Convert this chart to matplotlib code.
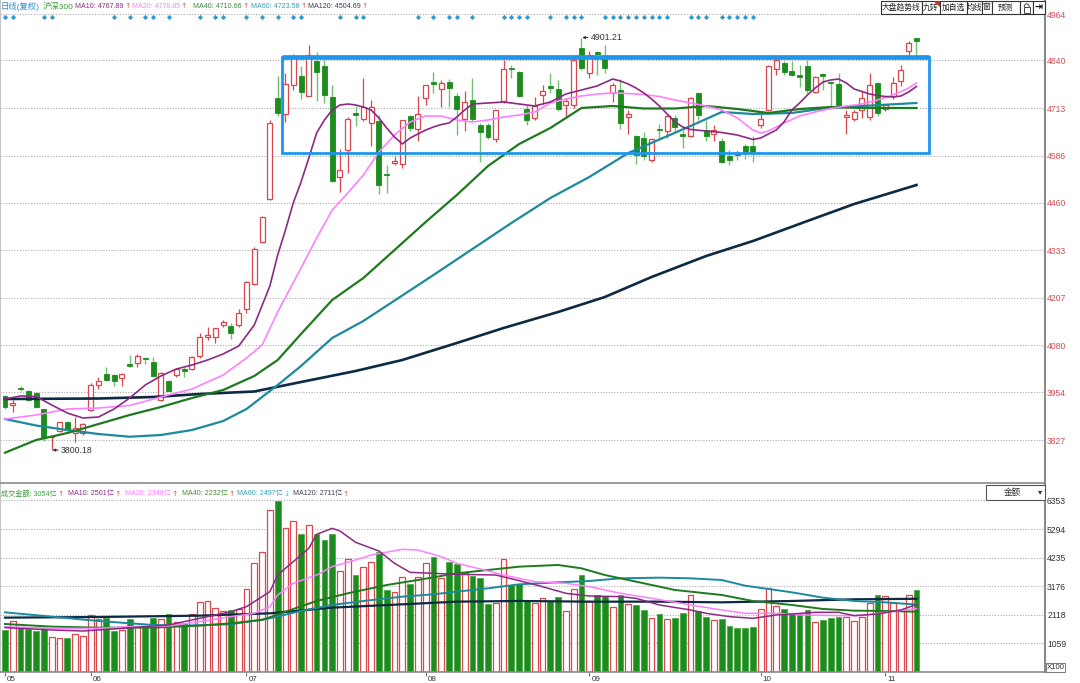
import matplotlib
matplotlib.use('Agg')
import matplotlib.pyplot as plt
import numpy as np
from matplotlib.patches import Rectangle, Polygon, Arc

W, H = 1080, 683
LAT = 'Liberation Sans'
CJK = 'Noto Sans CJK SC'
FAM = [LAT, CJK, 'DejaVu Sans']
plt.rcParams['font.family'] = FAM

# ---------------- data ----------------
opens = [3944.4,3920.4,3967.0,3957.8,3953.3,3908.9,3834.0,3851.0,3876.0,3844.8,
         3845.0,3907.1,3973.8,4003.2,4000.5,3991.6,4029.0,4031.6,4046.8,4034.3,
         3933.8,3984.5,4000.5,4015.6,4015.6,4051.0,4101.0,4101.0,4133.0,4132.0,
         4134.0,4176.0,4243.0,4355.0,4469.0,4741.0,4696.0,4775.0,4799.0,4746.0,
         4839.0,4825.0,4743.0,4528.0,4601.0,4699.7,4684.6,4673.0,4679.3,4537.8,
         4566.3,4563.6,4692.6,4657.0,4739.8,4781.6,4764.7,4781.6,4746.0,4684.6,
         4733.6,4668.6,4668.6,4630.4,4730.9,4819.9,4808.3,4710.4,4686.4,4748.7,
         4770.9,4763.8,4722.0,4722.0,4873.2,4806.5,4861.7,4846.5,4753.1,4762.0,
         4688.2,4637.5,4633.0,4575.2,4657.0,4652.6,4686.4,4643.7,4639.2,4753.1,
         4655.3,4643.7,4625.9,4585.9,4590.3,4612.6,4610.8,4668.6,4708.6,4818.1,
         4833.2,4812.7,4802.1,4826.1,4755.8,4803.8,4782.5,4777.2,4688.2,4683.7,
         4708.6,4688.2,4779.8,4710.4,4744.2,4784.3,4864.3,4900.0]
closes = [3914.2,3925.0,3962.2,3933.8,3914.2,3831.5,3837.0,3874.2,3853.7,3858.2,
          3869.0,3973.8,3985.4,3987.2,3985.4,4002.3,4025.4,4051.2,4043.2,3998.7,
          4006.7,3958.7,4015.6,4012.0,4047.7,4101.0,4106.0,4125.0,4141.0,4113.0,
          4165.0,4250.0,4337.0,4421.0,4672.0,4701.0,4776.0,4846.0,4757.0,4855.0,
          4810.0,4748.0,4519.0,4548.0,4683.0,4695.3,4714.9,4714.9,4508.5,4535.2,
          4570.7,4680.2,4659.7,4698.0,4773.6,4778.0,4779.8,4766.5,4711.3,4728.2,
          4684.6,4649.0,4635.7,4706.9,4817.2,4817.2,4744.2,4682.0,4717.5,4757.6,
          4765.6,4710.4,4732.7,4842.1,4819.9,4855.4,4857.2,4819.9,4773.6,4673.0,
          4697.1,4588.5,4584.1,4630.4,4653.5,4690.8,4661.5,4637.5,4739.8,4695.3,
          4639.2,4655.3,4568.1,4575.2,4586.8,4594.8,4594.8,4683.7,4826.1,4842.1,
          4809.2,4802.1,4795.0,4760.3,4795.0,4797.6,4778.9,4722.0,4693.5,4701.5,
          4739.8,4775.4,4699.7,4722.0,4779.8,4815.4,4886.6,4891.0]
highs = [3947,3934,3971.5,3960,3956,3909,3838,3876,3877.7,3889.3,
         3871.5,3978.3,3994.3,4022.7,4003.2,4004.9,4053.9,4055.7,4047.5,4047.7,
         4009.4,3987.2,4018.3,4021.0,4051.2,4112,4129,4127,4147,4138,
         4176,4252,4341,4425,4681,4799,4806,4858,4825,4881,
         4863,4841,4775,4605,4690,4717.5,4793.2,4735.3,4693.5,4561.8,
         4584.1,4682.0,4695.3,4744.2,4775.4,4809.2,4788.7,4791.4,4753.1,4759.4,
         4793.2,4673.0,4673.0,4708.6,4842.1,4827.0,4812.7,4722.0,4741.6,4775.4,
         4806.5,4788.7,4740.0,4845.0,4901.21,4864.3,4866.5,4880.4,4779.8,4791.4,
         4708.6,4642.0,4649.0,4633.0,4670.4,4695.3,4693.5,4655.3,4741.6,4755.8,
         4681.9,4666.8,4633.0,4601.9,4601.9,4617.0,4637.5,4697.1,4828.7,4844.8,
         4837.6,4837.6,4826.9,4842.1,4797.6,4806.5,4784.3,4806.5,4708.6,4708.6,
         4757.6,4806.5,4782.5,4724.6,4794.9,4827.0,4891.0,4900.5]
lows = [3911,3902.6,3958,3931,3911.5,3825.0,3800.18,3849.2,3851.0,3822.6,
        3840.4,3905.3,3962.2,3985.4,3971.1,3971.1,4022.7,4022.7,4029.0,3996.0,
        3932.0,3956.9,3996.0,3996.0,4013.8,4047,4094,4085,4127.5,4096,
        4127.5,4167,4240,4352,4467,4692,4675,4761,4737,4745,
        4733,4727,4516,4490,4540,4664.2,4677.5,4610.8,4483.5,4486.2,
        4561.8,4553.0,4652.6,4624.1,4722.0,4753.1,4714.9,4714.9,4641.9,4650.8,
        4677.5,4569.0,4631.0,4621.4,4726.4,4793.2,4741.6,4666.8,4682.0,4724.6,
        4753.1,4704.2,4686.4,4712.0,4815.0,4793.2,4802.1,4806.5,4729.1,4658.0,
        4643.7,4563.6,4575.2,4569.0,4633.0,4633.0,4649.0,4606.3,4634.8,4682.0,
        4625.9,4625.9,4566.3,4560.1,4575.2,4577.9,4569.0,4659.7,4706.0,4800.3,
        4800.3,4797.6,4768.2,4753.1,4753.1,4762.0,4717.5,4714.9,4643.7,4677.5,
        4686.4,4682.0,4690.8,4706.0,4738.0,4772.7,4855.4,4855.4]
# turnover (亿)
volumes = [1556,1889,1618,1593,1519,1618,1285,1272,1248,1408,
           1346,2111,1963,2013,1519,1556,1963,1680,1680,1988,
           1951,2148,1865,1828,2136,2581,2630,2383,2260,2297,
           2334,3074,4024,4456,5999,6344,5345,5591,5110,5443,
           5110,4888,5110,3740,4172,3592,3901,4061,4431,3037,
           2951,3531,3259,3531,4024,4271,3494,4061,4000,3679,
           3555,3494,2519,2568,4172,3222,3247,2630,2544,2729,
           2630,2790,2260,3062,3592,2642,2852,2815,2395,2852,
           2519,2482,2297,1988,2148,1963,2013,2173,2852,2260,
           2050,1926,1951,1704,1618,1618,1680,2321,3099,2445,
           2334,2173,2111,2297,1865,1926,1988,2025,2050,1902,
           2050,2544,2852,2815,2544,2297,2852,3054]

# price moving averages, read at candle indices
ma10_idx = [0,2,4,6,8,10,12,14,16,18,20,22,24,26,28,30,32,34,35,36,37,38,39,40,41,42,43,44,45,46,47,48,
            49,50,51,52,53,54,55,56,57,58,59,60,62,64,66,68,70,72,74,76,78,79,80,81,82,83,84,85,86,87,88,
            90,92,94,96,97,98,99,100,101,102,103,104,105,106,107,108,109,110,111,112,113,114,115,116,117]
ma10_val = [3936.5,3944.5,3943.1,3920.5,3899.1,3885.8,3888.4,3909.8,3939.1,3973.8,3997.9,4016.5,4027.2,
            4040.6,4056.6,4077.9,4134.0,4238.1,4320.8,4387.5,4459.6,4515.6,4579.7,4646.4,4681.1,4707.8,
            4721.2,4723.8,4721.2,4715.8,4707.8,4686.5,4659.8,4635.7,4617.1,4633.1,4643.8,4654.4,4662.4,
            4669.1,4673.1,4689.1,4707.8,4723.8,4726.5,4729.2,4723.8,4718.5,4729.2,4750.5,4761.2,4771.9,
            4790.5,4785.2,4777.2,4766.5,4753.2,4737.2,4718.5,4697.1,4675.8,4662.4,4655.8,4651.8,4647.8,
            4641.1,4629.1,4633.1,4643.8,4654.4,4675.8,4707.8,4726.5,4747.8,4766.5,4782.5,4787.9,4790.5,
            4779.9,4763.9,4757.2,4750.5,4746.5,4743.8,4742.5,4745.2,4755.9,4770.5]
ma20_idx = [0,4,8,12,16,20,24,28,31,33,35,38,40,42,44,46,48,50,52,54,56,58,60,62,64,66,68,70,72,74,76,
            78,80,82,84,86,88,90,92,94,96,97,98,100,102,104,106,108,110,112,114,116,117]
ma20_val = [3883.1,3893.8,3909.8,3912.4,3919.1,3941.8,3963.1,4000.5,4045.9,4080.6,4168.7,4286.1,4366.2,
            4440.9,4486.3,4534.3,4595.7,4641.0,4675.8,4691.8,4691.8,4681.1,4675.8,4681.1,4689.1,4694.5,
            4702.5,4726.5,4737.2,4745.2,4750.5,4753.2,4751.8,4749.2,4743.8,4734.5,4726.5,4718.5,4707.8,
            4686.5,4654.4,4646.4,4651.8,4673.1,4691.8,4702.5,4711.8,4718.5,4723.8,4734.5,4747.8,4766.5,4779.9]
ma40_idx = [0,4,8,12,16,20,24,28,32,35,38,42,46,50,54,58,62,66,70,74,78,82,86,90,94,98,102,106,110,117]
ma40_val = [3793.2,3827.0,3845.7,3869.7,3893.8,3915.1,3939.1,3960.5,3997.9,4040.6,4110.0,4200.7,4259.4,
            4334.1,4408.9,4481.0,4558.3,4617.1,4659.8,4713.2,4718.5,4711.8,4711.8,4718.5,4710.5,4699.8,
            4710.5,4715.8,4713.2,4713.2]
ma60_idx = [0,4,8,12,16,20,24,28,31,33,35,38,42,46,50,55,60,65,70,75,80,84,88,92,96,101,105,110,117]
ma60_val = [3883.1,3865.7,3853.7,3843.1,3835.8,3840.4,3853.7,3877.7,3909.8,3941.8,3973.8,4024.6,4099.3,
            4144.7,4199.1,4267.4,4336.8,4406.2,4472.9,4529.0,4593.0,4629.1,4665.1,4702.5,4697.1,4699.8,
            4711.8,4718.5,4726.5]
ma120_idx = [0,12,19,25,32,38,45,51,58,64,71,77,83,90,96,103,109,117]
ma120_val = [3936.5,3937.8,3941.8,3949.8,3956.5,3981.8,4011.2,4040.6,4086.0,4126.0,4168.7,4208.7,4262.1,
             4318.1,4358.1,4411.5,4456.9,4507.6]

# turnover moving averages
vma10_idx = [0,6,10,14,18,21,25,29,31,34,35,37,39,40,42,43,45,48,50,52,55,58,63,66,69,72,75,79,81,84,
             88,90,93,96,99,101,104,107,109,112,115,117]
vma10_val = [1643,1556,1519,1593,1680,1741,1988,2235,2420,2975,3592,4086,4580,5098,5320,5221,4802,4481,
             4024,3691,3654,3617,3592,3383,3160,2914,2815,2790,2728,2482,2297,2173,2050,1988,2111,2148,
             2210,2210,2087,2148,2297,2501]
vma20_idx = [0,6,12,16,21,25,29,32,34,35,37,40,42,45,47,51,53,56,58,61,64,68,72,75,79,83,88,92,95,99,
             103,107,110,113,117]
vma20_val = [1680,1618,1618,1680,1704,1865,2050,2173,2420,2852,3284,3592,3901,4148,4333,4543,4518,4271,
             4024,3814,3592,3346,3284,3160,2914,2729,2482,2297,2173,2173,2111,2087,2087,2210,2348]
vma40_idx = [0,6,12,19,25,29,33,36,40,44,49,53,58,62,66,71,74,77,81,86,92,96,101,105,109,113,117]
vma40_val = [1778,1680,1643,1643,1717,1803,1926,2235,2630,2914,3222,3407,3654,3778,3901,3963,3839,3592,
             3346,3037,2852,2630,2482,2334,2272,2260,2232]
vma60_idx = [0,6,12,19,23,29,34,38,42,46,51,55,58,62,66,71,75,79,84,88,92,95,101,105,109,113,117]
vma60_val = [2210,2050,1889,1741,1717,1766,1988,2260,2482,2630,2790,2877,2975,3099,3247,3321,3370,3469,
             3494,3469,3407,3197,2951,2753,2630,2580,2497]
vma120_idx = [0,12,25,34,42,51,58,66,75,84,92,101,109,117]
vma120_val = [2013,2037,2087,2173,2383,2506,2605,2630,2605,2605,2580,2630,2692,2711]

price_ticks = [4964, 4840, 4713, 4586, 4460, 4333, 4207, 4080, 3954, 3827]
vol_ticks = [6353, 5294, 4235, 3176, 2118, 1059]
month_idx = [0, 11, 31, 54, 75, 97, 113]
month_lbl = ['05', '06', '07', '08', '09', '10', '11']
signal_idx = [0,1,5,6,14,16,18,19,21,25,27,28,31,33,35,37,38,43,45,46,53,55,57,58,60,64,65,66,67,
              70,72,73,74,77,78,79,80,81,82,83,84,85,88,89,90,92,93,94,95,96]
box_left, box_right, box_low, box_high = 35.6, 118.6, 4593.0, 4849.3

# ---------------- styling ----------------
RED = '#D9474F'
GREEN = '#1C8C1C'
GWICK = '#72C172'
C_MA10 = '#8C2A83'
C_MA20 = '#FF80FF'
C_MA40 = '#1E7A1E'
C_MA60 = '#1C8A9C'
C_MA120 = '#0C2A44'
BLUE = '#1E96EE'
GRID = '#ABABAB'

fig = plt.figure(figsize=(W / 100, H / 100), dpi=100)
def fx(p): return p / W
def fy(p): return 1 - p / H

ax = fig.add_axes([0, fy(483), fx(1045), fy(0) - fy(483)])
axv = fig.add_axes([0, fy(672), fx(1045), fy(484) - fy(672)])
XL = (-0.642, 133.5)
ax.set_xlim(*XL); ax.set_ylim(3712.3, 5001.4)
axv.set_xlim(*XL); axv.set_ylim(0, 6962)

for a in (ax, axv):
    a.spines['top'].set_visible(False)
    a.spines['left'].set_color('#C4C4C4')
    a.spines['right'].set_color('#8A8A8A'); a.spines['right'].set_linewidth(1.5)
    a.spines['bottom'].set_color('#8A8A8A'); a.spines['bottom'].set_linewidth(1.2)

for p in price_ticks:
    ax.axhline(p, color=GRID, lw=0.8, ls=(0, (1, 1.5)), zorder=0)
for v in vol_ticks:
    axv.axhline(v, color=GRID, lw=0.8, ls=(0, (1, 1.5)), zorder=0)

ax.yaxis.tick_right()
ax.set_yticks(price_ticks)
ax.set_yticklabels([str(p) for p in price_ticks])
ax.tick_params(axis='y', length=0, pad=1.5, labelsize=6.2, labelcolor='#D24D57')
ax.set_xticks([])

axv.yaxis.tick_right()
axv.set_yticks(vol_ticks)
axv.set_yticklabels([str(v) for v in vol_ticks])
axv.tick_params(axis='y', length=0, pad=1.5, labelsize=6.2, labelcolor='#333333')
axv.set_xticks(month_idx)
axv.set_xticklabels([''] * len(month_idx))
axv.tick_params(axis='x', length=3, width=0.8, color='#777777', pad=0)
for i, s in zip(month_idx, month_lbl):
    axv.annotate(s, xy=(i, 0), xycoords=('data', 'axes fraction'), xytext=(1.5, -5.2),
                 textcoords='offset points', ha='left', va='center', fontsize=5.8,
                 color='#333333', annotation_clip=False)

# candles
o = np.array(opens); c = np.array(closes); h = np.array(highs); l = np.array(lows)
x = np.arange(len(o))
up = c >= o
dn = ~up
bw = 0.64
ax.vlines(x[up], l[up], o[up], color=RED, lw=0.9, zorder=2)
ax.vlines(x[up], c[up], h[up], color=RED, lw=0.9, zorder=2)
ax.bar(x[up], np.maximum(c[up] - o[up], 1.2), bottom=o[up], width=bw, facecolor='white',
       edgecolor=RED, linewidth=0.9, zorder=2.1)
ax.vlines(x[dn], l[dn], h[dn], color=GWICK, lw=1.0, zorder=2)
ax.bar(x[dn], np.maximum(o[dn] - c[dn], 1.6), bottom=c[dn], width=bw, facecolor=GREEN,
       edgecolor=GREEN, linewidth=0.6, zorder=2.1)

ax.plot(ma120_idx, ma120_val, color=C_MA120, lw=1.9, zorder=3)
ax.plot(ma60_idx, ma60_val, color=C_MA60, lw=1.6, zorder=3)
ax.plot(ma40_idx, ma40_val, color=C_MA40, lw=1.6, zorder=3)
ax.plot(ma20_idx, ma20_val, color=C_MA20, lw=1.2, zorder=3)
ax.plot(ma10_idx, ma10_val, color=C_MA10, lw=1.2, zorder=3)

ax.add_patch(Rectangle((box_left, box_low), box_right - box_left, box_high - box_low, fill=False,
                       edgecolor=BLUE, lw=2.0, zorder=4, clip_on=False))
ax.plot([box_left, box_right], [box_high, box_high], color=BLUE, lw=3.4, zorder=4,
        solid_capstyle='butt')

ax.scatter(signal_idx, [1 - 17 / 483] * len(signal_idx), transform=ax.get_xaxis_transform(),
           marker='D', s=7, color='#2C9BD3', zorder=5, linewidths=0)

hi_i = int(np.argmax(h)); lo_i = int(np.argmin(l))
for i, val in [(hi_i, h[hi_i]), (lo_i, l[lo_i])]:
    ax.annotate(f'{val:.2f}', xy=(i + 0.1, val), xytext=(i + 1.2, val),
                fontsize=6.3, color='#333333', va='center', ha='left',
                arrowprops=dict(arrowstyle='-|>', color='#333333', lw=0.7, mutation_scale=4,
                                shrinkA=0, shrinkB=0), zorder=6)

vv = np.array(volumes, dtype=float)
vw = 0.74
axv.bar(x[up], vv[up], width=vw, facecolor='white', edgecolor=RED, linewidth=0.9, zorder=2)
axv.bar(x[dn], vv[dn], width=vw, facecolor=GREEN, edgecolor='#3EA33E', linewidth=0.5, zorder=2)
axv.plot(vma120_idx, vma120_val, color=C_MA120, lw=1.6, zorder=3)
axv.plot(vma60_idx, vma60_val, color=C_MA60, lw=1.4, zorder=3)
axv.plot(vma40_idx, vma40_val, color=C_MA40, lw=1.4, zorder=3)
axv.plot(vma20_idx, vma20_val, color=C_MA20, lw=1.1, zorder=3)
axv.plot(vma10_idx, vma10_val, color=C_MA10, lw=1.1, zorder=3)

# ---------------- header texts ----------------
fig.canvas.draw()
rend = fig.canvas.get_renderer()

LEG = 5.15
def seg(px, py, s, color, size=LEG):
    return fig.text(fx(px), fy(py), s, color=color, fontsize=size, family=FAM,
                    ha='left', va='center')

def after(t, ch, color, size=5.4):
    bb = t.get_window_extent(renderer=rend)
    return fig.text((bb.x1 + 0.6) / W, t.get_position()[1], ch, color=color, fontsize=size,
                    family=['DejaVu Sans'], ha='left', va='center')

AR = '#E5533D'
seg(0.7, 6.5, '日线(复权)', '#2C8DCB', size=6.0)
seg(42.7, 6.5, '沪深300', '#3C9E3C', size=6.0)
for px, s, col in [(75, 'MA10: 4767.89', C_MA10), (131.7, 'MA20: 4778.85', '#FF80FF'),
                   (193.3, 'MA40: 4710.66', '#3D8B3D'), (251, 'MA60: 4723.58', '#3AA0B5'),
                   (308.3, 'MA120: 4504.69', '#3A3D5C')]:
    after(seg(px, 6.5, s, col), '↑', AR)

after(seg(1, 494, '成交金额: 3054亿', '#3C9E3C'), '↑', AR)
for px, s, col, arr, acol in [(68.3, 'MA10: 2501亿', C_MA10, '↑', AR),
                              (125, 'MA20: 2348亿', '#FF80FF', '↑', AR),
                              (181.7, 'MA40: 2232亿', '#4E8A2E', '↑', AR),
                              (237.3, 'MA60: 2497亿', '#3AA0B5', '↓', '#33C6F0'),
                              (292.7, 'MA120: 2711亿', '#3A3D5C', '↑', AR)]:
    after(seg(px, 494, s, col), arr, acol)

# toolbar buttons
def fig_rect(x0, y0, x1, y1, fc='white', ec='#333333', lw=0.8, z=10):
    r = Rectangle((fx(x0), fy(y1)), fx(x1) - fx(x0), fy(y0) - fy(y1), transform=fig.transFigure,
                  facecolor=fc, edgecolor=ec, lw=lw, zorder=z)
    fig.add_artist(r)

buttons = [(880.7, 921.7, '大盘趋势线'), (921.7, 940, '九转'), (940, 966.7, '加自选'),
           (966.7, 981.7, '均线'), (981.7, 991.7, '窗'), (991.7, 1020, '预测'),
           (1020, 1033, ''), (1033, 1045, '')]
for x0, x1, s in buttons:
    fig_rect(x0, 0.5, x1, 14)
    if s:
        fig.text(fx((x0 + x1) / 2), fy(7.5), s, fontsize=5.6, family=[CJK], color='#222222',
                 ha='center', va='center', zorder=11)
fig.add_artist(Polygon([[fx(933), fy(1)], [fx(939.5), fy(1)], [fx(939.5), fy(7)]],
                       closed=True, transform=fig.transFigure, facecolor='#E02020',
                       edgecolor='none', zorder=12))
fig_rect(1023.5, 7, 1030, 12.5, ec='#444444', lw=0.7, z=12)
fig.add_artist(Arc((fx(1026.75), fy(7)), fx(5), 6.5 / H, theta1=0, theta2=180,
                   transform=fig.transFigure, color='#444444', lw=0.7, zorder=12))
fig.text(fx(1039), fy(7.5), '⇥', fontsize=7, family=['DejaVu Sans'], color='#111111',
         ha='center', va='center', weight='bold', zorder=12)

fig_rect(986, 484.5, 1045, 500, ec='#555555', lw=0.8)
fig.text(fx(1012), fy(492.5), '金额', fontsize=6.2, family=[CJK], color='#333333',
         ha='center', va='center', zorder=11)
fig.text(fx(1040), fy(492), '▾', fontsize=6, family=['DejaVu Sans'], color='#333333',
         ha='center', va='center', zorder=11)

fig_rect(1046, 663, 1065, 672, ec='#777777', lw=0.7)
fig.text(fx(1055.5), fy(667.8), 'X100', fontsize=5.6, family=[LAT], color='#333333',
         ha='center', va='center', zorder=11)

fig.savefig('out.png', dpi=100, facecolor='white')
